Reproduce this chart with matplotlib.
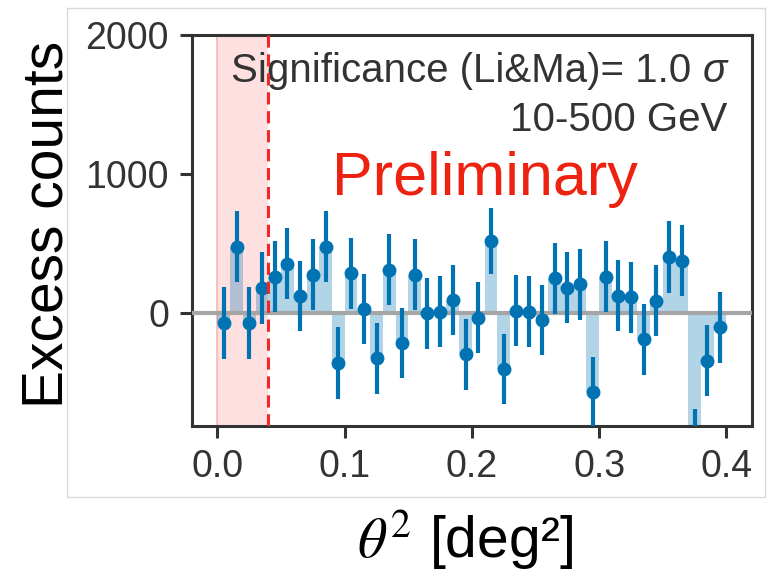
import matplotlib
matplotlib.use('Agg')
import matplotlib.pyplot as plt
from matplotlib.patches import Rectangle
import numpy as np

plt.rcParams['font.family'] = ['Liberation Sans', 'DejaVu Sans']
plt.rcParams['mathtext.fontset'] = 'stix'

# theta^2 histogram, 40 bins of 0.01 deg^2
bin_width = 0.01
theta2 = np.arange(40) * bin_width + bin_width / 2
excess = [-67, 480, -67, 180, 264, 355, 125, 276, 480, -355,
          288, 31, -324, 312, -216, 276, 0, 12, 96, -295,
          -31, 520, -400, 19, 12, -48, 252, 185, 209, -568,
          264, 125, 115, -185, 91, 403, 379, -940, -341, -101]
excess_err = [258, 252, 258, 258, 255, 255, 252, 255, 252, 260,
              255, 252, 255, 255, 252, 255, 255, 255, 252, 255,
              255, 240, 254, 255, 255, 255, 255, 255, 255, 252,
              255, 255, 255, 255, 255, 257, 257, 255, 255, 255]

theta2_cut = 0.04
significance = 1.0
energy_range = '10-500 GeV'

blue = '#0173b2'
dark = '#333333'

fig = plt.figure(figsize=(7.69, 5.84), dpi=100)
fig.patches.append(Rectangle((0.087, 0.149), 0.908, 0.837, transform=fig.transFigure,
                             fill=False, edgecolor='#dadada', linewidth=1.0))

ax = fig.add_axes([0.2497, 0.2705, 0.728, 0.6695])

ax.axvspan(0, theta2_cut, color='red', alpha=0.12, linewidth=0, zorder=1)
ax.axvline(0, color='#f4b8b8', linewidth=1.2, zorder=1)
ax.bar(theta2, excess, width=bin_width, color=blue, alpha=0.3, linewidth=0, zorder=2)
ax.axhline(0, color='#a5a5a5', linewidth=3.0, zorder=3)
ax.errorbar(theta2, excess, yerr=excess_err, fmt='o', color=blue, ecolor=blue,
            markersize=9, elinewidth=3.0, capsize=0, zorder=4)
ax.axvline(theta2_cut, color='#f02828', linewidth=2.2, linestyle=(0, (4, 2.2)), zorder=5)

ax.set_xlim(-0.02, 0.42)
ax.set_ylim(-810, 2000)
ax.set_xticks([0.0, 0.1, 0.2, 0.3, 0.4])
ax.set_yticks([0, 1000, 2000])

for spine in ax.spines.values():
    spine.set_color(dark)
    spine.set_linewidth(2.2)
ax.tick_params(direction='out', length=8.5, width=2.2, color=dark,
               labelsize=27, labelcolor=dark, pad=8)

# significance line: the sigma is set in italic sans, the rest upright
sig = ax.text(0.4005, 1740, 'σ', ha='right', va='center', fontsize=29,
              fontstyle='italic', color=dark)
fig.canvas.draw()
sig_width = sig.get_window_extent().width * 72 / fig.dpi
ax.annotate('Significance (Li&Ma)= %.1f' % significance, xy=(0.4005, 1740),
            xytext=(-sig_width - 8, 0), textcoords='offset points',
            ha='right', va='center', fontsize=29, color=dark)
ax.text(0.4005, 1390, energy_range, ha='right', va='center', fontsize=29, color=dark)
ax.text(0.2106, 960, 'Preliminary', ha='center', va='center', fontsize=44, color='#ee2211')

fig.text(0.062, 0.615, 'Excess counts', rotation=90, ha='center', va='center',
         fontsize=41, color='black')
fig.text(0.604, 0.075, '$\\theta^2$ [deg²]', ha='center', va='center',
         fontsize=41, color='black')

fig.savefig('out.png', dpi=100)
